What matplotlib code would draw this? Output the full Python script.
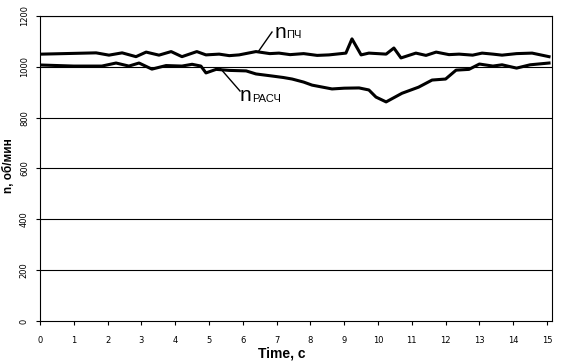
import numpy as np
import matplotlib.pyplot as plt

# nПЧ curve (time, rpm)
t_pch = [0.06, 1.66, 2.04, 2.43, 2.84, 3.14, 3.52, 3.88, 4.2, 4.64, 4.91, 5.3, 5.6, 5.89,
         6.39, 6.8, 7.07, 7.4, 7.8, 8.2, 8.55, 9.05, 9.23, 9.5, 9.73, 10.24, 10.47,
         10.68, 11.12, 11.42, 11.72, 12.1, 12.4, 12.8, 13.08, 13.4, 13.67, 14.1, 14.56,
         15.06]
n_pch = [1050, 1055, 1046, 1055, 1040, 1058, 1046, 1060, 1040, 1060, 1047, 1050, 1044, 1047,
         1060, 1052, 1054, 1048, 1052, 1045, 1047, 1054, 1110, 1047, 1054, 1050, 1074,
         1035, 1054, 1045, 1058, 1048, 1050, 1046, 1054, 1050, 1046, 1052, 1054,
         1040]

# nРАСЧ curve
t_rasch = [0.06, 1.0, 1.83, 2.25, 2.63, 2.93, 3.31, 3.73, 4.2, 4.5, 4.76, 4.91, 5.21,
           5.6, 6.1, 6.39, 6.86, 7.2, 7.46, 7.8, 8.05, 8.64, 9.0, 9.44, 9.73, 9.94, 10.24,
           10.71, 11.2, 11.6, 12.0, 12.31, 12.69, 13.0, 13.4, 13.67, 14.1, 14.5, 15.06]
n_rasch = [1007, 1003, 1003, 1015, 1003, 1015, 991, 1005, 1003, 1010, 1003, 976, 990,
           986, 984, 972, 964, 958, 952, 940, 928, 913, 916, 917, 909, 881, 862,
           896, 920, 948, 952, 987, 990, 1011, 1003, 1008, 995, 1008, 1015]

xticks = list(range(0, 16))
yticks = [0, 200, 400, 600, 800, 1000, 1200]

fig = plt.figure(figsize=(5.64, 3.62), dpi=100, facecolor='w')
ax = fig.add_axes([40/564, 1-321/362, 512/564, 305/362])
ax.set_xlim(0, 15 + 5/33.8)
ax.set_ylim(0, 1200)

for v in yticks[1:]:
    ax.axhline(v, color='k', lw=0.8, zorder=1)

ax.plot(t_pch, n_pch, 'k', lw=2.2, zorder=3)
ax.plot(t_rasch, n_rasch, 'k', lw=2.2, zorder=3)

ax.set_xticks(xticks)
ax.set_yticks(yticks)
ax.set_yticklabels([str(v) for v in yticks], rotation=90, va='center')
ax.tick_params(axis='x', direction='out', length=3, pad=8, labelsize=6)
ax.tick_params(axis='y', direction='out', length=3, pad=5, labelsize=6)
for s in ax.spines.values():
    s.set_linewidth(0.8)

# axis titles
fig.text(282/564, 1-354/362, 'Time, c', fontsize=10, fontweight='bold',
         family='Liberation Sans', ha='center', va='center')
fig.text(9/564, 1-166/362, 'n, об/мин', fontsize=8.5, fontweight='bold',
         family='Liberation Sans', ha='center', va='center', rotation=90)

# callouts
ax.plot([(258-40)/33.8, (272-40)/33.8], [(321-52)/0.2542, (321-32)/0.2542], 'k', lw=1)
ax.text((275-40)/33.8, (321-38)/0.2542, 'n', fontsize=15, family='Liberation Sans',
        va='baseline')
ax.text((286-40)/33.8, (321-38)/0.2542, 'ПЧ', fontsize=8, family='Liberation Sans',
        va='baseline')
ax.plot([(220-40)/33.8, (240-40)/33.8], [(321-68)/0.2542, (321-91)/0.2542], 'k', lw=1)
ax.text((240-40)/33.8, (321-101)/0.2542, 'n', fontsize=15, family='Liberation Sans',
        va='baseline')
ax.text((252-40)/33.8, (321-102)/0.2542, 'РАСЧ', fontsize=8, family='Liberation Sans',
        va='baseline')

fig.savefig('out.png', dpi=100)
